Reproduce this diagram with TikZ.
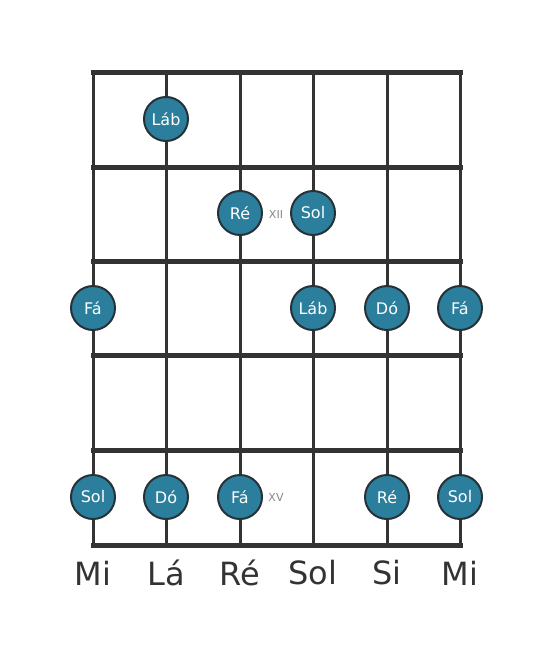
\documentclass[tikz,border=0pt]{standalone}
\usepackage{fontspec}
\setmainfont{DejaVu Sans}
\definecolor{notefill}{HTML}{2B7E9C}
\definecolor{notedraw}{HTML}{263238}
\definecolor{gridc}{HTML}{333333}
\definecolor{labc}{HTML}{333333}
\definecolor{romc}{HTML}{888888}
\begin{document}
\begin{tikzpicture}[x=1pt,y=-1pt,
  note/.style={circle,fill=notefill,draw=notedraw,line width=2pt,minimum size=44pt,inner sep=0pt,text=white,font=\fontsize{16}{19}\selectfont},
  strline/.style={gridc,line width=3pt},
  fretline/.style={gridc,line width=5pt},
  strlab/.style={text=labc,font=\fontsize{32}{38}\selectfont},
  roman/.style={text=romc,font=\fontsize{11}{13}\selectfont}]
\useasboundingbox (0,0) rectangle (553,656);
% string coordinates
\foreach \n/\x in {1/93,2/166,3/240,4/313,5/387,6/460}{
  \coordinate (t\n) at (\x,72);
  \coordinate (b\n) at (\x,545);
  \draw[strline] (t\n) -- (b\n);
}
\foreach \n/\y in {0/72,1/167,2/261,3/355,4/450,5/545}{
  \coordinate (l\n) at (93,\y);
  \coordinate (r\n) at (460,\y);
  \draw[fretline,line cap=rect] (l\n) -- (r\n);
}
% notes
\node[note] (n1) at (166,119) {Láb};
\node[note] (n2) at (240,213) {Ré};
\node[note] (n3) at (313,213) {Sol};
\node[roman] (xii) at (276,214) {XII};
\node[note] (n4) at (93,308) {Fá};
\node[note] (n5) at (313,308) {Láb};
\node[note] (n6) at (387,308) {Dó};
\node[note] (n7) at (460,308) {Fá};
\node[note] (n8) at (93,497) {Sol};
\node[note] (n9) at (166,497) {Dó};
\node[note] (n10) at (240,497) {Fá};
\node[roman] (xv) at (276,497) {XV};
\node[note] (n11) at (387,497) {Ré};
\node[note] (n12) at (460,497) {Sol};
% string names
\node[strlab] (s1) at (93,573) {Mi};
\node[strlab] (s2) at (166,573) {Lá};
\node[strlab] (s3) at (240,573) {Ré};
\node[strlab] (s4) at (313,573) {Sol};
\node[strlab] (s5) at (387,573) {Si};
\node[strlab] (s6) at (460,573) {Mi};
\end{tikzpicture}
\end{document}
